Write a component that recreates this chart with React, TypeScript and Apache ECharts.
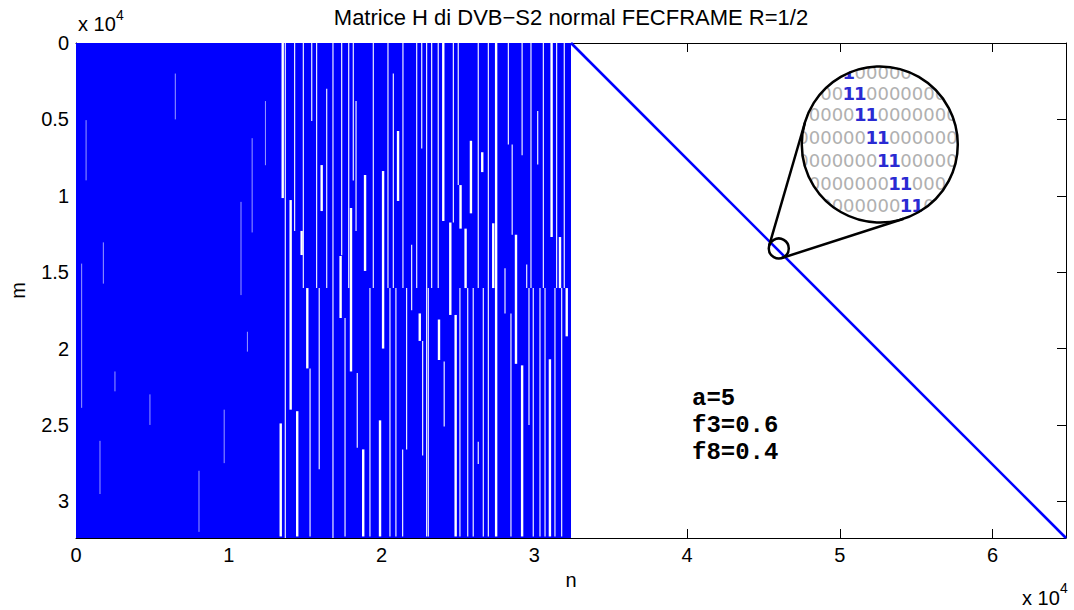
import React, { useEffect, useRef } from "react";
import * as echarts from "echarts";

const TITLE = "Matrice H di DVB−S2 normal FECFRAME R=1/2";
const X_NAME = "n";
const Y_NAME = "m";
const N_COLUMNS = 64800;
const M_ROWS = 32400;
const X_TICK_STEP = 10000;
const Y_TICK_STEP = 5000;
const EXPONENT_BASE = "x 10";
const EXPONENT_POWER = "4";

// dense information part of H: [x0, x1, y0, y1]
const DENSE_BLOCK = [[0, 32400, 0, 32400]];
// staircase (parity) part of H
const DIAGONAL = [
  [32400, 0],
  [64800, 32400],
];
// empty column stretches inside the dense block: [column, rowStart, rowEnd]
const GAPS_THICK = [
  [13530, 0, 10150],
  [14050, 10280, 24000],
  [14770, 12300, 13880],
  [16080, 7990, 11000],
  [17320, 13940, 18000],
  [18920, 8640, 14920],
  [20100, 8380, 20000],
  [21080, 5760, 10340],
  [18000, 10800, 21500],
  [14480, 24100, 32300],
  [15140, 16040, 21300],
  [19900, 24700, 32300],
  [22500, 17700, 19500],
  [13400, 24900, 32300],
  [24040, 0, 11650],
  [24500, 11750, 17800],
  [25170, 9300, 12150],
  [25850, 6400, 11150],
  [26590, 7150, 8450],
  [27310, 11800, 16040],
  [27500, 0, 32300],
  [28800, 12550, 21000],
  [31130, 0, 12700],
  [31680, 12700, 16040],
  [31020, 20700, 32300],
  [32120, 16040, 19200],
  [23760, 18100, 20750],
  [24850, 17800, 32300],
  [18800, 26600, 32300],
  [29200, 21100, 32300],
  [25500, 12150, 16040],
];
const GAPS_THIN = [
  [13700, 0, 32400],
  [14310, 0, 12300],
  [15430, 0, 5100],
  [15920, 16040, 27900],
  [16820, 0, 32400],
  [17610, 18000, 32300],
  [17850, 0, 16040],
  [18330, 3800, 12300],
  [18410, 21600, 26500],
  [20420, 0, 16040],
  [20940, 16040, 32300],
  [21380, 26600, 32300],
  [21400, 0, 16040],
  [21970, 13200, 17500],
  [22630, 0, 6900],
  [22690, 19500, 27000],
  [22950, 0, 16040],
  [23710, 0, 16040],
  [24100, 20850, 25100],
  [25020, 0, 9300],
  [25640, 16040, 32300],
  [26330, 26100, 27550],
  [26990, 16040, 32300],
  [28080, 14750, 17700],
  [28470, 17700, 32300],
  [28550, 6650, 12550],
  [29200, 0, 7350],
  [29500, 14500, 16040],
  [29650, 16040, 25000],
  [29780, 0, 16040],
  [29930, 16040, 32300],
  [30220, 4450, 7960],
  [31350, 16040, 32300],
  [31790, 16040, 32300],
  [31960, 0, 16040],
  [14880, 0, 16040],
  [15750, 0, 16040],
  [16410, 3000, 16040],
  [17390, 0, 13900],
  [18150, 0, 9000],
  [19460, 0, 16040],
  [20770, 2000, 16040],
  [22300, 0, 16040],
  [15320, 21300, 32300],
  [19240, 16040, 32300],
  [20550, 16040, 32300],
  [21640, 16040, 26600],
  [22950, 16040, 32300],
  [26330, 0, 16040],
  [26990, 0, 16040],
  [28300, 0, 6650],
  [30590, 0, 16040],
  [31460, 0, 16040],
  [23280, 0, 16040],
  [24700, 0, 11750],
  [23060, 16040, 32300],
  [25130, 16040, 32300],
  [26000, 16040, 32300],
  [26660, 16040, 32300],
  [30370, 16040, 32300],
  [30700, 16040, 32300],
];
// faint stretches in the left, almost full part
const GAPS_FAINT = [
  [370, 14440, 23880],
  [660, 5050, 8990],
  [1570, 26040, 29520],
  [1790, 13050, 15750],
  [2550, 21500, 22800],
  [4840, 23000, 25000],
  [8050, 28000, 32000],
  [11530, 6230, 12400],
  [10800, 10400, 16500],
  [11220, 18900, 20200],
  [12400, 3800, 8000],
  [9700, 24000, 27500],
  [6500, 2000, 5000],
];
// point of the staircase that is magnified
const MAGNIFIER_ANCHOR = [46000, 13450];
// column of the first "1" in each magnified row
const MAGNIFIER_ONES_COLUMN = [3, 4, 5, 6, 7, 8, 9];
const MAGNIFIER_COLUMNS = 16;
const ANNOTATION_LINES = ["a=5", "f3=0.6", "f8=0.4"];

const SANS = "'Liberation Sans', Arial, Helvetica, sans-serif";
const BLUE = "#0000ff";

function fmt(step: number) {
  return (v: number) => (Math.abs(v % step) < 1e-6 ? String(+(v / 10000).toFixed(2)) : "");
}

function gapSeries(data: number[][], width: number, color: string) {
  return {
    type: "custom",
    silent: true,
    z: 3,
    xAxisIndex: 0,
    yAxisIndex: 0,
    data,
    renderItem: (_p: any, api: any) => {
      const a = api.coord([api.value(0), api.value(1)]);
      const b = api.coord([api.value(0), api.value(2)]);
      return {
        type: "line",
        shape: { x1: a[0], y1: a[1], x2: b[0], y2: b[1] },
        style: { stroke: color, lineWidth: width },
      };
    },
  };
}

export default function App() {
  const ref = useRef<HTMLDivElement>(null);
  useEffect(() => {
    const chart = echarts.init(ref.current!, null, { renderer: "svg" });
    const axisLine = { show: true, onZero: false, lineStyle: { color: "#000", width: 1 } };
    const tick = { show: true, inside: true, length: 9, lineStyle: { color: "#000", width: 1 } };
    const labelStyle = { color: "#000", fontSize: 20, fontFamily: SANS };
    chart.setOption({
      animation: false,
      backgroundColor: "#fff",
      title: {
        text: TITLE,
        left: 571,
        textAlign: "center",
        top: 6,
        padding: 0,
        textStyle: { color: "#000", fontSize: 22, fontWeight: "normal", fontFamily: SANS },
      },
      grid: { left: 76, top: 43, width: 990, height: 495, containLabel: false, outerBoundsMode: "none" },
      xAxis: [
        {
          type: "value",
          position: "bottom",
          min: 0,
          max: N_COLUMNS,
          interval: X_TICK_STEP,
          axisLine,
          axisTick: tick,
          splitLine: { show: false },
          axisLabel: { ...labelStyle, margin: 7, formatter: fmt(X_TICK_STEP), showMaxLabel: false },
          name: X_NAME,
          nameLocation: "middle",
          nameGap: 30,
          nameTextStyle: labelStyle,
        },
        {
          type: "value",
          position: "top",
          min: 0,
          max: N_COLUMNS,
          interval: X_TICK_STEP,
          axisLine,
          axisTick: tick,
          splitLine: { show: false },
          axisLabel: { show: false },
        },
      ],
      yAxis: [
        {
          type: "value",
          position: "left",
          inverse: true,
          min: 0,
          max: M_ROWS,
          interval: Y_TICK_STEP,
          axisLine,
          axisTick: tick,
          splitLine: { show: false },
          axisLabel: { ...labelStyle, margin: 7, formatter: fmt(Y_TICK_STEP), showMaxLabel: false },
          name: Y_NAME,
          nameLocation: "middle",
          nameGap: 48,
          nameRotate: 90,
          nameTextStyle: labelStyle,
        },
        {
          type: "value",
          position: "right",
          inverse: true,
          min: 0,
          max: M_ROWS,
          interval: Y_TICK_STEP,
          axisLine,
          axisTick: tick,
          splitLine: { show: false },
          axisLabel: { show: false },
        },
      ],
      series: [
        {
          type: "custom",
          silent: true,
          z: 2,
          xAxisIndex: 0,
          yAxisIndex: 0,
          data: DENSE_BLOCK,
          renderItem: (_p: any, api: any) => {
            const a = api.coord([api.value(0), api.value(2)]);
            const b = api.coord([api.value(1), api.value(3)]);
            return {
              type: "rect",
              shape: { x: a[0], y: a[1], width: b[0] - a[0], height: b[1] - a[1] },
              style: { fill: BLUE },
            };
          },
        },
        gapSeries(GAPS_FAINT, 1, "#9a9aff"),
        gapSeries(GAPS_THICK, 2.4, "#ffffff"),
        gapSeries(GAPS_THIN, 1.2, "#ececff"),
        {
          type: "line",
          silent: true,
          z: 4,
          xAxisIndex: 0,
          yAxisIndex: 0,
          data: DIAGONAL,
          symbol: "none",
          lineStyle: { color: BLUE, width: 2.6 },
        },
      ],
    });

    const p = chart.convertToPixel({ xAxisIndex: 0, yAxisIndex: 0 }, MAGNIFIER_ANCHOR) as number[];
    const r = 10;
    const c2 = [p[0] + 101, p[1] - 104];
    const R = 78;
    const dx = c2[0] - p[0];
    const dy = c2[1] - p[1];
    const D = Math.hypot(dx, dy);
    const u = [dx / D, dy / D];
    const pu = [u[1], -u[0]];
    const s = (R - r) / D;
    const cs = Math.sqrt(1 - s * s);
    const tangents = [1, -1].map((sg) => {
      const n = [-s * u[0] + sg * cs * pu[0], -s * u[1] + sg * cs * pu[1]];
      return {
        type: "line",
        z: 102,
        shape: { x1: p[0] + r * n[0], y1: p[1] + r * n[1], x2: c2[0] + R * n[0], y2: c2[1] + R * n[1] },
        style: { stroke: "#000", lineWidth: 2.5 },
      };
    });

    const cw = 11.45;
    const rowOffsets = [-72, -51, -30, -7, 16, 39, 61];
    const gx0 = c2[0] - 82.5;
    const chars: any[] = [];
    MAGNIFIER_ONES_COLUMN.forEach((one, i) => {
      const y = c2[1] + rowOffsets[i];
      const hw = Math.sqrt(Math.max(0, R * R - rowOffsets[i] * rowOffsets[i]));
      for (let k = 0; k < MAGNIFIER_COLUMNS; k++) {
        const x = gx0 + k * cw + cw / 2;
        if (Math.abs(x - c2[0]) > hw + cw / 2) continue;
        const isOne = k === one || k === one + 1;
        chars.push({
          type: "text",
          z: 100,
          x,
          y,
          style: {
            text: isOne ? "1" : "0",
            fill: isOne ? "#2a2ad2" : "#b0b0b0",
            font: `${isOne ? "bold " : ""}18px 'DejaVu Sans', sans-serif`,
            textAlign: "center",
            textVerticalAlign: "middle",
          },
        });
      }
    });

    const graphics: any[] = [
      ...chars,
      {
        type: "ring",
        z: 101,
        shape: { cx: c2[0], cy: c2[1], r: R + 20, r0: R + 1 },
        style: { fill: "#fff" },
      },
      ...tangents,
      {
        type: "circle",
        z: 103,
        shape: { cx: c2[0], cy: c2[1], r: R },
        style: { fill: "none", stroke: "#000", lineWidth: 2.5 },
      },
      {
        type: "circle",
        z: 103,
        shape: { cx: p[0], cy: p[1], r },
        style: { fill: "none", stroke: "#000", lineWidth: 2.5 },
      },
      {
        type: "text",
        z: 50,
        x: 78,
        y: 24,
        style: { text: EXPONENT_BASE, fill: "#000", font: `20px ${SANS}`, textAlign: "left", textVerticalAlign: "middle" },
      },
      {
        type: "text",
        z: 50,
        x: 116,
        y: 15,
        style: { text: EXPONENT_POWER, fill: "#000", font: `14px ${SANS}`, textAlign: "left", textVerticalAlign: "middle" },
      },
      {
        type: "text",
        z: 50,
        x: 1022,
        y: 598,
        style: { text: EXPONENT_BASE, fill: "#000", font: `20px ${SANS}`, textAlign: "left", textVerticalAlign: "middle" },
      },
      {
        type: "text",
        z: 50,
        x: 1060,
        y: 588,
        style: { text: EXPONENT_POWER, fill: "#000", font: `14px ${SANS}`, textAlign: "left", textVerticalAlign: "middle" },
      },
      ...ANNOTATION_LINES.map((t, i) => ({
        type: "text",
        z: 50,
        x: 692,
        y: 398 + i * 27,
        style: {
          text: t,
          fill: "#000",
          font: `bold 24px 'Liberation Mono', 'Courier New', monospace`,
          textAlign: "left",
          textVerticalAlign: "middle",
        },
      })),
    ];
    chart.setOption({ graphic: { elements: graphics } });
    return () => chart.dispose();
  }, []);
  return (
    <div
      ref={ref}
      style={{ position: "fixed", left: 0, top: 0, width: 1074, height: 610, background: "#fff" }}
    />
  );
}
